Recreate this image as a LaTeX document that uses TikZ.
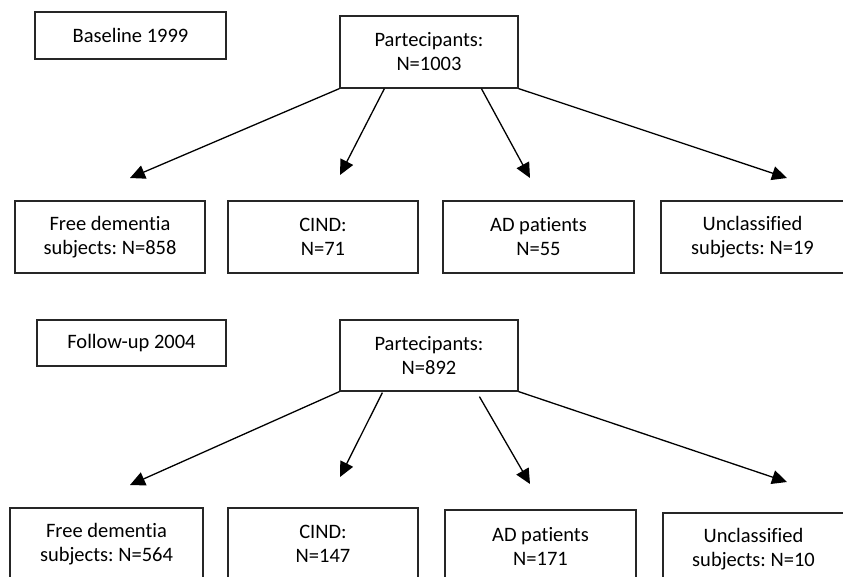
\documentclass[tikz,border=0pt]{standalone}
\usepackage{fontspec}
\setmainfont{Carlito}[Ligatures=NoCommon]
\frenchspacing
\usetikzlibrary{arrows.meta,calc}
\begin{document}
\begin{tikzpicture}[x=1pt,y=-1pt,
  box/.style={draw=black!85,line width=1.2pt,align=center,inner sep=0pt,
    font=\fontsize{20.5}{24}\selectfont},
  arr/.style={line width=1.3pt,-{Triangle[length=15pt,width=14pt]}}]
\useasboundingbox (0,0) rectangle (843,576);
% top section
\node[box,minimum width=191pt,minimum height=47pt] (base) at (130.5,35.5) {Baseline 1999};
\node[box,minimum width=178pt,minimum height=72pt] (p1) at (429,52) {Partecipants:\\N=1003};
\node[box,minimum width=190pt,minimum height=72pt] (a1) at (110,237) {Free dementia\\subjects: N=858};
\node[box,minimum width=190pt,minimum height=72pt] (b1) at (323,237) {CIND:\\N=71};
\node[box,minimum width=191pt,minimum height=72pt] (c1) at (538.5,237) {AD patients\\N=55};
\node[box,minimum width=183pt,minimum height=72pt] (d1) at (752.5,237) {Unclassified\\subjects: N=19};
\coordinate (ea1) at (130,178);
\coordinate (eb1) at (340,175);
\coordinate (ec1) at (530,178);
\coordinate (ed1) at (787,178);
\draw[arr] (p1.south west) -- (ea1);
\draw[arr] ($(p1.south west)+(45,0)$) -- (eb1);
\draw[arr] ($(p1.south west)+(142,0)$) -- (ec1);
\draw[arr] (p1.south east) -- (ed1);
% bottom section
\node[box,minimum width=189pt,minimum height=46pt] (fu) at (131.5,343) {Follow-up 2004};
\node[box,minimum width=178pt,minimum height=71pt] (p2) at (429,355.5) {Partecipants:\\N=892};
\node[box,minimum width=193pt,minimum height=72pt] (a2) at (106.5,544) {Free dementia\\subjects: N=564};
\node[box,minimum width=190pt,minimum height=72pt] (b2) at (323,544) {CIND:\\N=147};
\node[box,minimum width=191pt,minimum height=72pt] (c2) at (540.5,546) {AD patients\\N=171};
\node[box,minimum width=181pt,minimum height=72pt] (d2) at (753.5,549) {Unclassified\\subjects: N=10};
\coordinate (ea2) at (130,485);
\coordinate (eb2) at (340,477);
\coordinate (ec2) at (530,484);
\coordinate (ed2) at (787,482);
\coordinate (sb2) at ($(p2.south west)+(43,1)$);
\coordinate (sc2) at ($(p2.south west)+(140,5)$);
\draw[arr] (p2.south west) -- (ea2);
\draw[arr] (sb2) -- (eb2);
\draw[arr] (sc2) -- (ec2);
\draw[arr] (p2.south east) -- (ed2);
\end{tikzpicture}
\end{document}
